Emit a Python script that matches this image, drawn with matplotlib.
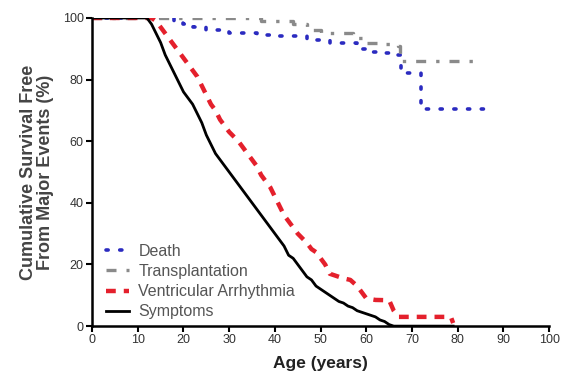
import numpy as np
import matplotlib.pyplot as plt

plt.rcParams['font.family'] = ['Liberation Sans', 'DejaVu Sans']

# Kaplan-Meier style curves (age in years, % free of event)
death_age = [0, 17, 18, 20, 22, 25, 30, 36, 41, 47, 52, 57, 58, 60, 63, 66.5, 67.5, 71.5, 72, 87]
death_val = [100, 100, 99, 98, 97, 96, 95, 94.5, 94, 93, 92, 92, 90, 89, 88.5, 88, 82, 82, 70.5, 70.5]

tx_age = [0, 35, 37, 44, 47, 50, 56, 57, 60, 63, 67, 67.4, 83.5]
tx_val = [100, 100, 99, 98, 96, 95, 95, 93.5, 92, 91.5, 91, 86, 86]

va_age = [0, 13, 14, 15, 16, 17, 18, 19, 20, 21, 22, 23, 24, 25, 26, 27, 28, 29, 30,
          31, 32, 33, 34, 35, 36, 37, 38, 39, 40, 41, 42, 43, 44, 45, 46, 47, 48, 49,
          50, 51, 52, 53, 55, 56.5, 58, 59, 60, 62, 65, 66, 67, 78.5, 79]
va_val = [100, 100, 99, 97, 95, 93, 91, 89, 87, 85, 83, 81, 78, 75, 72, 70, 67, 65, 63,
          61.5, 60, 58, 56, 54, 52, 49, 47, 45, 42, 39, 36, 34, 32, 30, 28.5, 27, 25, 24,
          22, 20, 17, 16.5, 15.5, 15, 13, 11, 9, 8.5, 8.4, 5, 3, 3, 1]

sym_age = [0, 12, 13, 14, 15, 16, 17, 18, 19, 20, 21, 22, 23, 24, 25, 26, 27, 28, 29, 30,
           31, 32, 33, 34, 35, 36, 37, 38, 39, 40, 41, 42, 43, 44, 45, 46, 47, 48, 49, 50,
           51, 52, 53, 54, 55, 56, 57, 58, 59, 60, 61, 62, 63, 64, 65, 66, 79]
sym_val = [100, 100, 98, 95, 92, 88, 85, 82, 79, 76, 74, 72, 69, 66, 62, 59, 56, 54, 52, 50,
           48, 46, 44, 42, 40, 38, 36, 34, 32, 30, 28, 26, 23, 22, 20, 18, 16, 15, 13, 12,
           11, 10, 9, 8, 7.5, 6.5, 6, 5, 4.5, 4, 3.5, 3, 2, 1.5, 0.5, 0, 0]

fig = plt.figure(figsize=(5.72, 3.74), dpi=100)
ax = fig.add_axes([0.161, 0.128, 0.799, 0.824])

ax.plot(death_age, death_val, drawstyle='steps-post', color='#2b2bc0',
        linestyle=(0, (0.6, 3.2)), dash_capstyle='round', lw=2.6, label='Death')
ax.plot(tx_age, tx_val, drawstyle='steps-post', color='#8a8a8a',
        linestyle=(0, (3, 3, 1, 3)), lw=2.4, label='Transplantation')
ax.plot(va_age, va_val, color='#e4202c', linestyle=(0, (2.2, 1.8)),
        lw=3.2, label='Ventricular Arrhythmia')
ax.plot(sym_age, sym_val, color='black', lw=2.0, label='Symptoms')

ax.set_xlim(0, 100)
ax.set_ylim(0, 100)
ax.set_xticks(np.arange(0, 101, 10))
ax.set_yticks(np.arange(0, 101, 20))
for s in ['top', 'right']:
    ax.spines[s].set_visible(False)
for s in ['left', 'bottom']:
    ax.spines[s].set_linewidth(1.8)
ax.tick_params(width=1.5, length=4, labelsize=9, labelcolor='#333333', pad=2)

ax.set_xlabel('Age (years)', fontsize=12.5, fontweight='bold', color='#222222', labelpad=7)
ax.set_ylabel('Cumulative Survival Free\nFrom Major Events (%)', fontsize=13,
              fontweight='bold', color='#444444', labelpad=6, linespacing=1.05)

ax.legend(loc='lower left', bbox_to_anchor=(0.0, -0.025), frameon=False, fontsize=11.5,
          labelcolor='#555555', handlelength=1.4, handletextpad=0.6, labelspacing=0.33)

fig.savefig('out.png', dpi=100)
